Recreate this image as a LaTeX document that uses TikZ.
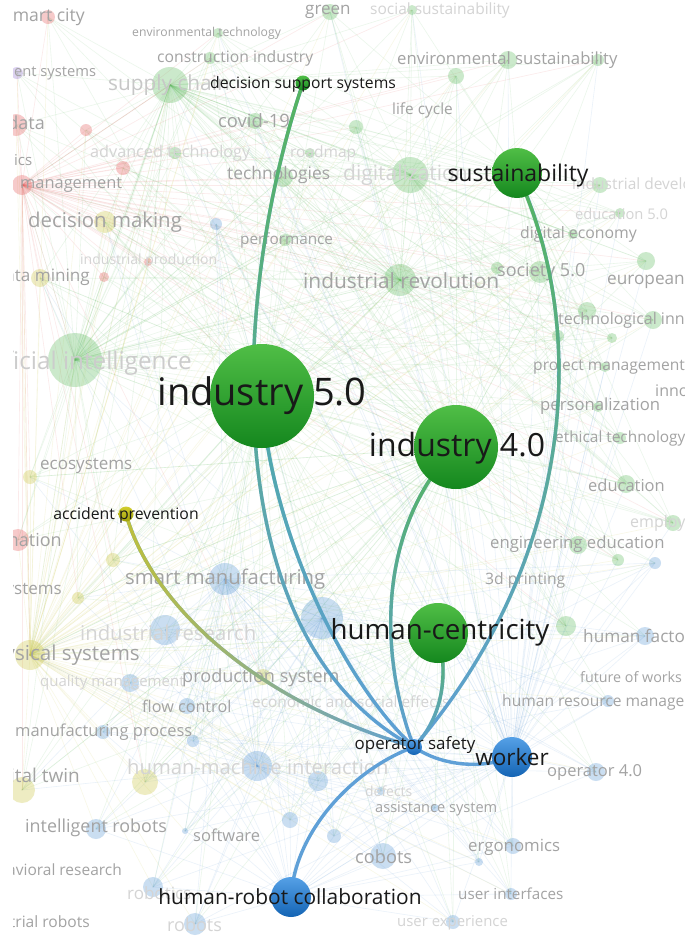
\documentclass[tikz,border=0pt]{standalone}
\usepackage{fontspec}
\setmainfont{Open Sans}
\usetikzlibrary{fadings}
\pgfdeclarelayer{bg}
\pgfdeclarelayer{links}
\pgfsetlayers{bg,links,main}
\newcommand\fsz[1]{\fontsize{#1}{#1}\selectfont}
\tikzfading[name=fadedown, top color=transparent!0, bottom color=transparent!100]
\tikzfading[name=faderight, left color=transparent!0, right color=transparent!100]
\definecolor{cg}{RGB}{100,190,100}
\definecolor{cr}{RGB}{230,95,95}
\definecolor{cy}{RGB}{205,200,70}
\definecolor{cb}{RGB}{95,155,215}
\definecolor{cp}{RGB}{150,120,210}
\definecolor{gT}{RGB}{80,190,70}
\definecolor{gB}{RGB}{20,135,30}
\definecolor{bT}{RGB}{85,160,230}
\definecolor{bB}{RGB}{20,100,180}
\definecolor{yT}{RGB}{210,205,45}
\definecolor{yB}{RGB}{160,160,10}
\definecolor{lkG}{RGB}{85,180,95}
\definecolor{lkB}{RGB}{95,160,215}
\definecolor{lkT}{RGB}{80,170,165}
\definecolor{lkY}{RGB}{190,192,60}
\newcommand\gradlink[7]{%
  \draw[lk,#6] (#1) .. controls (#2) and (#3) .. (#4);
  \draw[lk,#5,path fading=#7] (#1) .. controls (#2) and (#3) .. (#4);}
\def\glist{g1,g2,g3,g4,g5,g6,g7,g8,g9,g10,g11,g12,g13,g14,g15,g16,g17,g18,g19,g20,g21,g22,g23,g24,g25,g26,g27,g28,g29,g30,g31,g32,g33,g34,g35}
\def\rlist{r1,r2,r3,r4,r5,r6,r7,r8,p1}
\def\ylist{y1,y2,y3,y4,y5,y6,y7,y8,y9}
\def\blist{b1,b2,b3,b4,b5,b6,b7,b8,b9,b10,b11,b12,b13,b14,b15,b16,b17,b18,b19,b20,b21,b22,b23,b24,b25,b26,b27}
\def\bglist{g1/170/85/18/cg, g2/75/360/27/cg, g3/410/175/18/cg, g4/400/280/16/cg, g5/255/121/8/cg, g6/210/58/6/cg, g7/508/60/9/cg, g8/540/272/11/cg, g9/456/76/8/cg, g10/356/127/7/cg, g11/175/153/6/cg, g12/310/153/5/cg, g13/283/177/10/cg, g14/218/33/5/cg, g15/330/12/8/cg, g16/412/10/5/cg, g17/598/60/6/cg, g18/600/185/8/cg, g19/620/213/5/cg, g20/573/234/5/cg, g21/497/268/6/cg, g22/646/261/9/cg, g23/587/311/9/cg, g24/653/320/9/cg, g25/612/338/5/cg, g26/605/367/5/cg, g27/598/407/5/cg, g28/620/438/6/cg, g29/626/484/9/cg, g30/673/523/8/cg, g31/578/545/9/cg, g32/618/560/6/cg, g33/566/626/10/cg, g34/285/240/6/cg, g35/558/336/6/cg, r1/48/17/7/cr, r2/16/125/11/cr, r3/86/130/6/cr, r4/22/185/10/cr, r5/123/168/7/cr, r6/104/277/5/cr, r7/18/540/11/cr, r8/148/262/4/cr, y1/105/222/11/cy, y2/40/278/9/cy, y3/30/477/7/cy, y4/263/677/8/cy, y5/30/655/15/cy, y6/145/782/13/cy, y7/22/790/13/cy, y8/113/560/7/cy, y9/78/598/6/cy, b1/225/579/16/cb, b2/165/630/15/cb, b3/322/618/21/cb, b4/130/683/9/cb, b5/187/706/8/cb, b6/193/741/6/cb, b7/103/732/7/cb, b8/257/766/15/cb, b9/318/781/10/cb, b10/381/791/4/cb, b11/96/829/10/cb, b12/185/831/3/cb, b13/383/856/13/cb, b14/334/836/7/cb, b15/513/846/8/cb, b16/479/862/4/cb, b17/511/894/6/cb, b18/453/922/7/cb, b19/195/924/11/cb, b20/153/887/10/cb, b21/596/772/9/cb, b22/645/636/9/cb, b23/608/701/6/cb, b24/216/224/6/cb, b25/655/563/6/cb, b26/435/808/4/cb, b27/290/820/8/cb, p1/17/73/6/cp}
\begin{document}
\begin{tikzpicture}[x=1pt,y=-1pt,
  mn/.style={circle, inner sep=0pt, draw=none},
  lab/.style={text=black!90, inner sep=0pt},
  bgl/.style={text=black!36, inner sep=0pt, anchor=west},
  bgr/.style={text=black!36, inner sep=0pt, anchor=east},
  bgf/.style={text=black!17, inner sep=0pt, anchor=west},
  bgfr/.style={text=black!20, inner sep=0pt, anchor=east},
  fe/.style={draw=#1, opacity=0.13, line width=0.6pt},
  lk/.style={line width=3.4pt, line cap=round}]
\useasboundingbox (0,0) rectangle (685,938);
% ---------- main nodes ----------
\node[mn, minimum size=104pt, top color=gT, bottom color=gB] (i5) at (262,396) {};
\node[mn, minimum size=84pt, top color=gT, bottom color=gB] (i4) at (456,447) {};
\node[mn, minimum size=50pt, top color=gT, bottom color=gB] (sus) at (517,173) {};
\node[mn, minimum size=60pt, top color=gT, bottom color=gB] (hc) at (438,633) {};
\node[mn, minimum size=40pt, top color=bT, bottom color=bB] (wk) at (512,757) {};
\node[mn, minimum size=40pt, top color=bT, bottom color=bB] (hrc) at (291,897) {};
\node[mn, minimum size=16pt, top color=bT, bottom color=bB] (os) at (414,747) {};
\node[mn, minimum size=15pt, top color=gT, bottom color=gB] (dss) at (303,83) {};
\node[mn, minimum size=15pt, top color=yT, bottom color=yB] (ap) at (126,514) {};
% ---------- main labels ----------
\node[lab, font=\fsz{38}] (i5l) at (262,396) {industry 5.0};
\node[lab, font=\fsz{32}] (i4l) at (457,448) {industry 4.0};
\node[lab, font=\fsz{23}] (susl) at (518,176) {sustainability};
\node[lab, font=\fsz{27.7}] (hcl) at (440,632) {human-centricity};
\node[lab, font=\fsz{22.5}] (wkl) at (512,757) {worker};
\node[lab, font=\fsz{20.9}] (hrcl) at (290,897) {human-robot collaboration};
\node[lab, font=\fsz{16.9}] (osl) at (415,745) {operator safety};
\node[lab, font=\fsz{15.7}] (dssl) at (303,84) {decision support systems};
\node[lab, font=\fsz{15.8}] (apl) at (126,515) {accident prevention};
% ---------- background ----------
\begin{pgfonlayer}{bg}
\fill[white] (0,0) rectangle (685,938);
\begin{scope}
\clip (13,0) rectangle (685,938);
\foreach \n/\x/\y/\r/\c in \bglist { \coordinate (\n) at (\x,\y); }
\foreach \h/\c in {i5/cg, i4/cg, g4/cg, g1/cg, g2/cg, r4/cr, y5/cy} {
  \foreach \t in \glist { \draw[fe=\c] (\h) -- (\t); }
  \foreach \t in \rlist { \draw[fe=\c] (\h) -- (\t); }
  \foreach \t in \ylist { \draw[fe=\c] (\h) -- (\t); } }
\foreach \h/\c in {sus/cg, g3/cg, wk/cb} {
  \foreach \t in \glist { \draw[fe=\c] (\h) -- (\t); } }
\foreach \h/\c in {i5/cg, i4/cg, hc/cg, b8/cb, b3/cb, b1/cb, hrc/cb, wk/cb, y5/cy} {
  \foreach \t in \blist { \draw[fe=\c] (\h) -- (\t); } }
\foreach \h/\c in {hc/cg, b8/cb, b1/cb, i4/cg} {
  \foreach \t in \ylist { \draw[fe=\c] (\h) -- (\t); } }
\foreach \n/\x/\y/\r/\c in \bglist { \fill[\c, opacity=0.33] (\n) circle (\r); }
% labels
\node[bgr, font=\fsz{17.6}] (t1) at (85,17) {smart city};
\node[bgl, font=\fsz{12.2}] (t2) at (132,33) {environmental technology};
\node[bgl, font=\fsz{17}] (t3) at (305,12) {green};
\node[bgf, font=\fsz{15.5}] (t4) at (370,10) {social sustainability};
\node[bgl, font=\fsz{15.7}] (t5) at (157,58) {construction industry};
\node[bgl, font=\fsz{16.7}] (t6) at (397,60) {environmental sustainability};
\node[bgl, font=\fsz{14.7}] (t7) at (14,73) {ent systems};
\node[bgf, font=\fsz{20.8}, text=black!22] (t8) at (108,85) {supply chain};
\node[bgr, font=\fsz{18}] (t9) at (45,125) {big data};
\node[bgl, font=\fsz{18.4}] (t10) at (218,121) {covid-19};
\node[bgl, font=\fsz{15.4}] (t11) at (392,110) {life cycle};
\node[bgf, font=\fsz{16.2}] (t12) at (90,153) {advanced technology};
\node[bgf, font=\fsz{15.5}] (t13) at (290,153) {roadmap};
\node[bgl, font=\fsz{15}] (t14) at (14,160) {ics};
\node[bgl, font=\fsz{16.4}] (t15) at (20,185) {management};
\node[bgl, font=\fsz{17.4}] (t16) at (227,175) {technologies};
\node[bgf, font=\fsz{21}] (t17) at (343,175) {digitalization};
\node[bgf, font=\fsz{15.5}] (t18) at (572,185) {industrial development};
\node[bgl, font=\fsz{20.4}] (t19) at (28,222) {decision making};
\node[bgf, font=\fsz{14.7}] (t20) at (575,214) {education 5.0};
\node[bgl, font=\fsz{15.8}] (t21) at (520,234) {digital economy};
\node[bgl, font=\fsz{15.3}] (t22) at (240,240) {performance};
\node[bgr, font=\fsz{17.1}] (t23) at (90,277) {data mining};
\node[bgf, font=\fsz{14}] (t24) at (80,261) {industrial production};
\node[bgl, font=\fsz{20.9}] (t25) at (303,281) {industrial revolution};
\node[bgl, font=\fsz{18}] (t26) at (497,272) {society 5.0};
\node[bgl, font=\fsz{17.2}] (t27) at (607,282) {european};
\node[bgl, font=\fsz{16}] (t28) at (558,320) {technological innovation};
\node[bgfr, font=\fsz{24.3}] (t29) at (192,363) {artificial intelligence};
\node[bgl, font=\fsz{15.6}] (t30) at (533,367) {project management};
\node[bgl, font=\fsz{16}] (t31) at (655,391) {innovation};
\node[bgl, font=\fsz{16.7}] (t32) at (540,406) {personalization};
\node[bgl, font=\fsz{15.4}] (t33) at (555,438) {ethical technology};
\node[bgl, font=\fsz{17}] (t34) at (40,466) {ecosystems};
\node[bgl, font=\fsz{16.5}] (t35) at (588,485) {education};
\node[bgf, font=\fsz{16}] (t36) at (630,523) {employment};
\node[bgr, font=\fsz{18}] (t37) at (62,540) {automation};
\node[bgl, font=\fsz{16.7}] (t38) at (490,544) {engineering education};
\node[bgl, font=\fsz{20.3}] (t39) at (125,579) {smart manufacturing};
\node[bgl, font=\fsz{15.7}] (t40) at (485,580) {3d printing};
\node[bgr, font=\fsz{17}] (t41) at (62,591) {systems};
\node[bgf, font=\fsz{20.3}] (t42) at (80,633) {industrial research};
\node[bgr, font=\fsz{20.6}] (t43) at (140,655) {cyber-physical systems};
\node[bgl, font=\fsz{17.2}] (t44) at (583,636) {human factors};
\node[bgf, font=\fsz{15}] (t45) at (40,683) {quality management};
\node[bgl, font=\fsz{18.1}] (t46) at (182,678) {production system};
\node[bgl, font=\fsz{14.3}] (t47) at (580,677) {future of works};
\node[bgl, font=\fsz{16.2}] (t48) at (142,706) {flow control};
\node[bgf, font=\fsz{15.4}] (t49) at (252,702) {economic and social effects};
\node[bgl, font=\fsz{15.6}] (t50) at (502,702) {human resource management};
\node[bgl, font=\fsz{16.5}] (t51) at (15,732) {manufacturing process};
\node[bgf, font=\fsz{20.2}] (t52) at (127,767) {human-machine interaction};
\node[bgl, font=\fsz{16.5}] (t53) at (547,772) {operator 4.0};
\node[bgr, font=\fsz{19}] (t54) at (80,778) {digital twin};
\node[bgf, font=\fsz{13.9}] (t55) at (365,791) {defects};
\node[bgl, font=\fsz{14.6}] (t56) at (375,809) {assistance system};
\node[bgl, font=\fsz{17.9}] (t57) at (25,828) {intelligent robots};
\node[bgl, font=\fsz{16.5}] (t58) at (193,835) {software};
\node[bgl, font=\fsz{16.8}] (t59) at (468,847) {ergonomics};
\node[bgl, font=\fsz{18.2}] (t60) at (355,857) {cobots};
\node[bgr, font=\fsz{15.5}] (t61) at (122,870) {behavioral research};
\node[bgf, font=\fsz{17}] (t62) at (127,893) {robotics};
\node[bgl, font=\fsz{15.2}] (t63) at (458,894) {user interfaces};
\node[bgr, font=\fsz{15.6}] (t64) at (90,922) {industrial robots};
\node[bgf, font=\fsz{18}] (t65) at (167,925) {robots};
\node[bgf, font=\fsz{14.9}] (t66) at (397,923) {user experience};
\end{scope}
\end{pgfonlayer}
% ---------- highlighted links ----------
\begin{pgfonlayer}{links}
\gradlink{dss.center}{230,300}{215,640}{os.center}{lkG}{lkB}{fadedown}
\gradlink{i5.center}{268,520}{340,680}{os.center}{lkT}{lkB}{fadedown}
\gradlink{i4.center}{375,530}{380,660}{os.center}{lkG}{lkB}{fadedown}
\gradlink{sus.center}{590,330}{575,560}{os.center}{lkG}{lkB}{fadedown}
\gradlink{hc.center}{450,680}{440,720}{os.center}{lkG}{lkB}{fadedown}
\gradlink{ap.center}{150,600}{250,700}{os.center}{lkY}{lkB}{faderight}
\draw[lk, lkB] (os.center) .. controls (440,765) and (480,770) .. (wk.center);
\draw[lk, lkB] (hrc.center) .. controls (295,830) and (355,768) .. (os.center);
\end{pgfonlayer}
\end{tikzpicture}
\end{document}
